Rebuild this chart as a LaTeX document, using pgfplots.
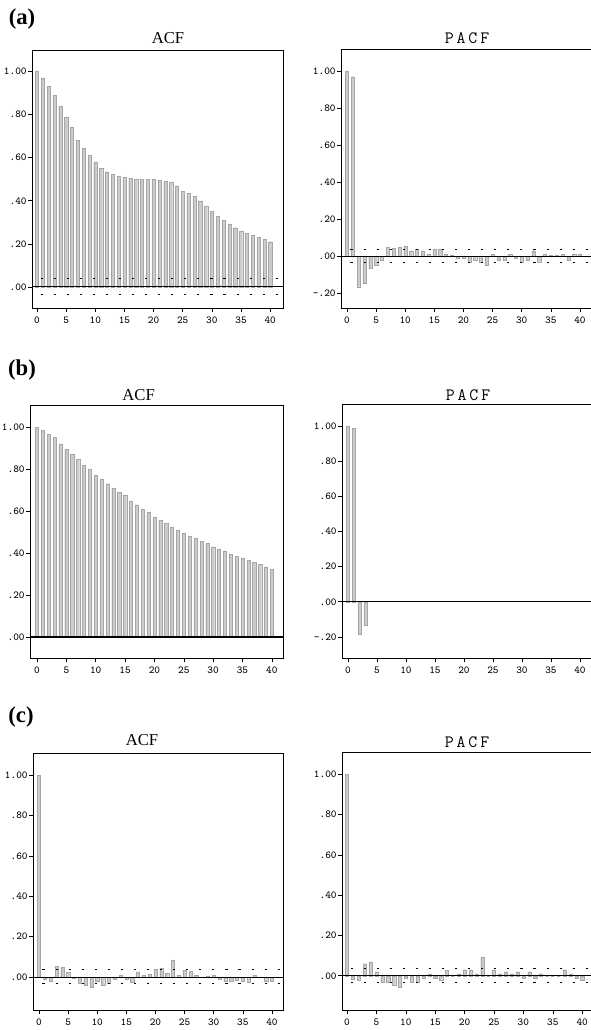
\documentclass[border=0pt]{standalone}
\usepackage{fontspec}
\setmainfont{Liberation Serif}
\usepackage{pgfplots}
\usepackage{pgfplotstable}
\pgfplotsset{compat=1.18}

\pgfplotstableread{
lag v
0 1.00
1 0.97
2 0.93
3 0.89
4 0.84
5 0.79
6 0.74
7 0.68
8 0.645
9 0.61
10 0.58
11 0.55
12 0.535
13 0.525
14 0.515
15 0.51
16 0.505
17 0.50
18 0.50
19 0.50
20 0.50
21 0.495
22 0.49
23 0.485
24 0.47
25 0.445
26 0.435
27 0.42
28 0.40
29 0.375
30 0.35
31 0.33
32 0.31
33 0.29
34 0.275
35 0.26
36 0.25
37 0.24
38 0.23
39 0.22
40 0.21
}\acfA

\pgfplotstableread{
lag v
0 1.00
1 0.97
2 -0.165
3 -0.148
4 -0.067
5 -0.05
6 -0.02
7 0.05
8 0.045
9 0.05
10 0.055
11 0.03
12 0.04
13 0.03
14 0.01
15 0.04
16 0.04
17 0.01
18 0.005
19 -0.01
20 -0.01
21 -0.03
22 -0.02
23 -0.03
24 -0.05
25 0.01
26 -0.02
27 -0.02
28 0.01
29 -0.01
30 -0.03
31 -0.02
32 0.03
33 -0.03
34 0.01
35 0.005
36 0.005
37 0.01
38 -0.02
39 0.01
40 0.01
}\pacfA

\pgfplotstableread{
lag v
0 1.00
1 0.985
2 0.965
3 0.95
4 0.92
5 0.895
6 0.87
7 0.845
8 0.82
9 0.80
10 0.77
11 0.75
12 0.73
13 0.71
14 0.69
15 0.675
16 0.645
17 0.63
18 0.61
19 0.595
20 0.57
21 0.555
22 0.54
23 0.525
24 0.51
25 0.495
26 0.48
27 0.47
28 0.455
29 0.445
30 0.43
31 0.42
32 0.41
33 0.395
34 0.385
35 0.375
36 0.365
37 0.355
38 0.345
39 0.335
40 0.325
}\acfB

\pgfplotstableread{
lag v
0 1.00
1 0.985
2 -0.187
3 -0.135
}\pacfB

\pgfplotstableread{
lag v
0 1.00
1 -0.01
2 -0.02
3 0.055
4 0.05
5 0.025
6 -0.005
7 -0.03
8 -0.04
9 -0.05
10 -0.02
11 -0.04
12 -0.03
13 -0.01
14 0.01
15 -0.01
16 -0.025
17 0.025
18 0.01
19 0.015
20 0.04
21 0.045
22 0.02
23 0.085
24 0.01
25 0.035
26 0.03
27 0.01
28 0.0
29 0.005
30 0.01
31 -0.01
32 -0.02
33 -0.02
34 -0.015
35 -0.02
36 -0.025
37 0.01
38 0.0
39 -0.02
40 -0.02
}\acfC

\pgfplotstableread{
lag v
0 1.00
1 -0.015
2 -0.02
3 0.06
4 0.07
5 0.02
6 -0.03
7 -0.03
8 -0.046
9 -0.055
10 -0.01
11 -0.03
12 -0.03
13 -0.01
14 0.01
15 -0.01
16 -0.02
17 0.028
18 0.0
19 0.01
20 0.03
21 0.03
22 0.01
23 0.09
24 0.0
25 0.03
26 0.01
27 0.02
28 0.01
29 0.02
30 -0.01
31 0.02
32 -0.01
33 0.01
34 0.0
35 0.0
36 0.0
37 0.03
38 0.01
39 -0.01
40 -0.02
}\pacfC

\pgfplotsset{
  acfbase/.style={
    scale only axis, anchor=north west,
    axis line style={line width=0.5pt},
    tick align=outside, xtick pos=left, ytick pos=left,
    major tick length=3pt,
    tick style={line width=0.4pt, black},
    xtick={0,5,10,15,20,25,30,35,40},
    xticklabels={0,5,10,15,20,25,30,35,40},
    tick label style={font=\ttfamily\fontsize{8}{8}\selectfont},
    yticklabel style={xshift=2.5pt},
    clip=true,
  },
  bars/.style={ybar, bar width=2.4pt, fill=gray!40, draw=gray!70, line width=0.2pt},
  zeroline/.style={black, line width=0.8pt},
  band/.style={black, line width=0.6pt, dash pattern=on 1.6pt off 8.2pt},
}

\begin{document}
\begin{tikzpicture}
\useasboundingbox (0,0) rectangle (443.25pt,-772.5pt);

% ---------- (a) ----------
\node[font=\bfseries\fontsize{17}{17}\selectfont] at (16.5pt,-14.25pt) {(a)};
\node[font=\fontsize{12.5}{12.5}\selectfont] at (126pt,-28.5pt) {ACF};
\node[font=\ttfamily\fontsize{13}{13}\selectfont] at (350.25pt,-28.5pt) {P\,A\,C\,F};

\begin{axis}[acfbase, at={(24pt,-37.5pt)}, width=188.25pt, height=193.5pt,
  xmin=-0.86, xmax=42.2, ymin=-0.098, ymax=1.10,
  ytick={0,0.2,0.4,0.6,0.8,1.0}, yticklabels={.00,.20,.40,.60,.80,1.00}]
  \addplot[bars] table[x=lag,y=v] {\acfA};
  \addplot[zeroline] coordinates {(-2,0) (45,0)};
  \addplot[band] coordinates {(0.6,0.038) (42.5,0.038)};
  \addplot[band] coordinates {(0.6,-0.036) (42.5,-0.036)};
\end{axis}

\begin{axis}[acfbase, at={(255.75pt,-36.75pt)}, width=187.5pt, height=194.25pt,
  xmin=-1.03, xmax=41.9, ymin=-0.28, ymax=1.12,
  ytick={-0.2,0,0.2,0.4,0.6,0.8,1.0}, yticklabels={-.20,.00,.20,.40,.60,.80,1.00}]
  \addplot[bars] table[x=lag,y=v] {\pacfA};
  \addplot[zeroline] coordinates {(-2,0) (45,0)};
  \addplot[band] coordinates {(0.6,0.035) (42.5,0.035)};
  \addplot[band] coordinates {(0.6,-0.035) (42.5,-0.035)};
\end{axis}

% ---------- (b) ----------
\node[font=\bfseries\fontsize{17}{17}\selectfont] at (16.5pt,-277.5pt) {(b)};
\node[font=\fontsize{12.5}{12.5}\selectfont] at (104pt,-296.25pt) {ACF};
\node[font=\ttfamily\fontsize{13}{13}\selectfont] at (351pt,-296.25pt) {P\,A\,C\,F};

\begin{axis}[acfbase, at={(22.5pt,-303.75pt)}, width=189.75pt, height=189.75pt,
  xmin=-1.19, xmax=41.9, ymin=-0.1, ymax=1.105,
  ytick={0,0.2,0.4,0.6,0.8,1.0}, yticklabels={.00,.20,.40,.60,.80,1.00}]
  \addplot[bars] table[x=lag,y=v] {\acfB};
  \addplot[black, line width=1.4pt] coordinates {(-2,0) (45,0)};
\end{axis}

\begin{axis}[acfbase, at={(256.5pt,-303pt)}, width=186.75pt, height=190.5pt,
  xmin=-1.03, xmax=41.9, ymin=-0.32, ymax=1.125,
  ytick={-0.2,0,0.2,0.4,0.6,0.8,1.0}, yticklabels={-.20,.00,.20,.40,.60,.80,1.00}]
  \addplot[bars] table[x=lag,y=v] {\pacfB};
  \addplot[zeroline] coordinates {(-2,0) (45,0)};
\end{axis}

% ---------- (c) ----------
\node[font=\bfseries\fontsize{17}{17}\selectfont] at (15.75pt,-537.75pt) {(c)};
\node[font=\fontsize{12.5}{12.5}\selectfont] at (106.5pt,-555pt) {ACF};
\node[font=\ttfamily\fontsize{13}{13}\selectfont] at (350.25pt,-556.5pt) {P\,A\,C\,F};

\begin{axis}[acfbase, at={(24.75pt,-564.75pt)}, width=187.5pt, height=192.75pt,
  xmin=-1.03, xmax=41.9, ymin=-0.163, ymax=1.11,
  ytick={0,0.2,0.4,0.6,0.8,1.0}, yticklabels={.00,.20,.40,.60,.80,1.00}]
  \addplot[bars] table[x=lag,y=v] {\acfC};
  \addplot[zeroline] coordinates {(-2,0) (45,0)};
  \addplot[band] coordinates {(0.6,0.038) (42.5,0.038)};
  \addplot[band] coordinates {(0.6,-0.032) (42.5,-0.032)};
\end{axis}

\begin{axis}[acfbase, at={(256.5pt,-564pt)}, width=186.75pt, height=193.5pt,
  xmin=-0.85, xmax=41.5, ymin=-0.17, ymax=1.11,
  ytick={0,0.2,0.4,0.6,0.8,1.0}, yticklabels={.00,.20,.40,.60,.80,1.00}]
  \addplot[bars] table[x=lag,y=v] {\pacfC};
  \addplot[zeroline] coordinates {(-2,0) (45,0)};
  \addplot[band] coordinates {(0.6,0.035) (42.5,0.035)};
  \addplot[band] coordinates {(0.6,-0.032) (42.5,-0.032)};
\end{axis}
\end{tikzpicture}
\end{document}
